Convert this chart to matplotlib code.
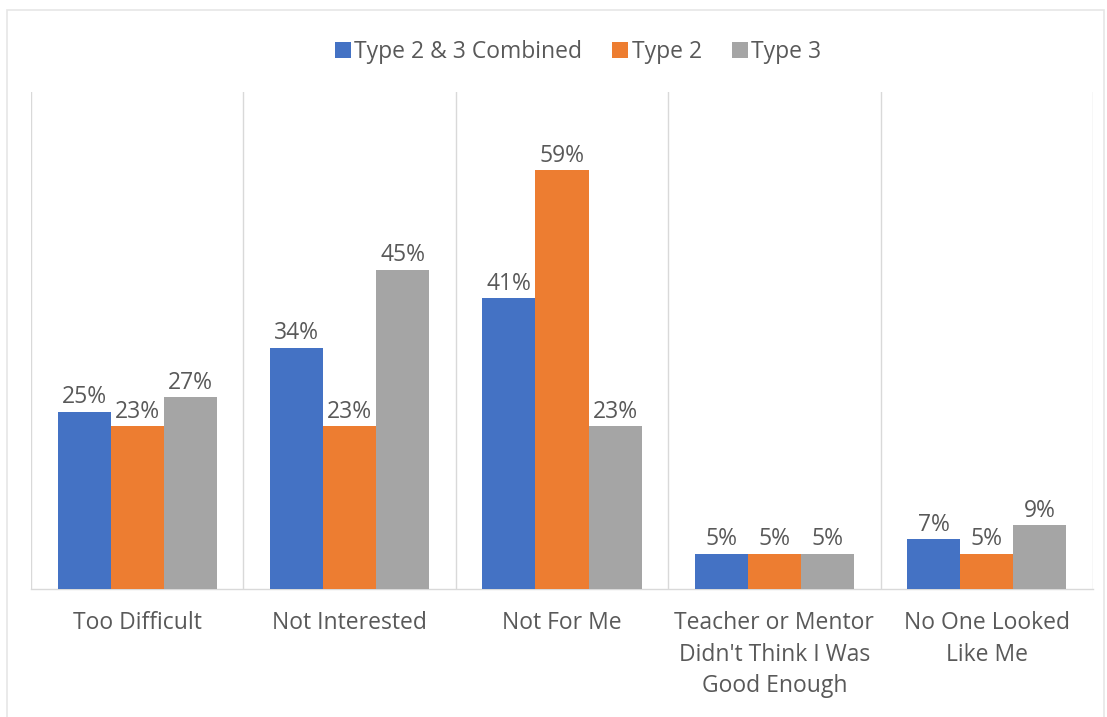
import matplotlib
matplotlib.use("Agg")
import matplotlib.pyplot as plt
from matplotlib.patches import Rectangle
import numpy as np

categories = ["Too Difficult", "Not Interested", "Not For Me",
              "Teacher or Mentor\nDidn't Think I Was\nGood Enough",
              "No One Looked\nLike Me"]
series_names = ["Type 2 & 3 Combined", "Type 2", "Type 3"]
combined = [25, 34, 41, 5, 7]
type2 = [23, 23, 59, 5, 5]
type3 = [27, 45, 23, 5, 9]
colors = ["#4472C4", "#ED7D31", "#A5A5A5"]
text_color = "#595959"

plt.rcParams['font.family'] = ['Open Sans', 'DejaVu Sans']

W, H = 1107, 717
fig = plt.figure(figsize=(W / 100, H / 100), dpi=100)

# chart frame
fig.patches.append(Rectangle((7 / W, -0.01), (1104 - 7) / W, (H - 10) / H + 0.01,
                             transform=fig.transFigure, fill=False,
                             edgecolor="#E6E6E6", linewidth=1.2))

left, right, top, bottom = 31, 1093, 92, 589
ax = fig.add_axes([left / W, 1 - bottom / H, (right - left) / W, (bottom - top) / H])

n = len(categories)
x = np.arange(n)
bw = 0.25
data = [combined, type2, type3]
for i, (vals, name, c) in enumerate(zip(data, series_names, colors)):
    pos = x + (i - 1) * bw
    ax.bar(pos, vals, width=bw, color=c, label=name, zorder=3)
    for p, v in zip(pos, vals):
        ax.text(p, v + 0.3, f"{v}%", ha="center", va="bottom",
                fontsize=16.5, color=text_color, zorder=4)

ax.set_xlim(-0.5, n - 0.5)
ax.set_ylim(0, 70)
ax.set_yticks([])
ax.set_xticks(x)
ax.set_xticklabels(categories, fontsize=16.5, color=text_color, linespacing=1.42)
ax.tick_params(axis="x", length=0, pad=16)

for b in np.arange(-0.5, n, 1.0):
    ax.axvline(b, color="#D9D9D9", linewidth=1, zorder=1)

for s in ["top", "right", "left"]:
    ax.spines[s].set_visible(False)
ax.spines["bottom"].set_color("#D9D9D9")
ax.spines["bottom"].set_linewidth(1)

leg = fig.legend(loc="center", bbox_to_anchor=(578 / W, 1 - 52 / H), ncol=3,
                 frameon=False, fontsize=16.5, handlelength=0.7, handleheight=0.7,
                 handletextpad=0.15, columnspacing=1.3)
for t in leg.get_texts():
    t.set_color(text_color)

fig.savefig("out.png", dpi=100)
